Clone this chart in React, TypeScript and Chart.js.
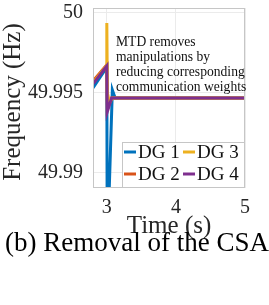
import { useEffect, useRef } from "react";
import { Chart, registerables } from "chart.js";

Chart.register(...registerables);

const seriesNames = ["DG 1", "DG 2", "DG 3", "DG 4"];
const seriesColors = ["#0072BD", "#D95319", "#EDB120", "#7E2F8E"];

const dg1Time = [2.8, 3.0, 3.006, 3.08, 3.12, 5];
const dg1Freq = [49.99531, 49.9966, 49.985, 49.99518, 49.99468, 49.99468];
const dg2Time = [2.8, 3.0, 3.006, 3.07, 5];
const dg2Freq = [49.99574, 49.99675, 49.994, 49.99468, 49.99468];
const dg3Time = [2.8, 2.995, 3.0, 3.008, 3.04, 3.08, 5];
const dg3Freq = [49.99562, 49.9967, 49.99937, 49.995, 49.99437, 49.99468, 49.99468];
const dg4Time = [2.8, 3.0, 3.006, 3.07, 5];
const dg4Freq = [49.99556, 49.99668, 49.99381, 49.99468, 49.99468];

const xMin = 2.8;
const xMax = 5;
const yMin = 49.98906;
const yMax = 50.0003;
const xTicks = [3, 4, 5];
const xTickLabels = ["3", "4", "5"];
const yTicks = [49.99, 49.995, 50];
const yTickLabels = ["49.99", "49.995", "50"];

const xTitle = "Time (s)";
const yTitle = "Frequency (Hz)";
const annotationLines = [
  "MTD removes",
  "manipulations by",
  "reducing corresponding",
  "communication weights",
];
const caption = "(b) Removal of the CSA";

const SERIF = '"Liberation Serif", "Times New Roman", serif';

const toPoints = (t: number[], v: number[]) => t.map((x, i) => ({ x, y: v[i] }));

const overlayPlugin = {
  id: "overlay",
  afterDraw(chart: any) {
    const { ctx, chartArea: a } = chart;
    ctx.save();
    // axes frame
    ctx.strokeStyle = "#c6c6c6";
    ctx.lineWidth = 1;
    ctx.strokeRect(a.left + 0.5, a.top + 0.5, a.right - a.left - 1, a.bottom - a.top - 1);

    // y-axis title
    ctx.save();
    ctx.translate(13, (a.top + a.bottom) / 2 + 4);
    ctx.rotate(-Math.PI / 2);
    ctx.fillStyle = "#262626";
    ctx.font = `25px ${SERIF}`;
    ctx.textAlign = "center";
    ctx.textBaseline = "middle";
    ctx.fillText(yTitle, 0, 0);
    ctx.restore();

    // annotation
    ctx.fillStyle = "#111";
    ctx.font = `13.6px ${SERIF}`;
    ctx.textAlign = "left";
    ctx.textBaseline = "middle";
    annotationLines.forEach((t, i) => ctx.fillText(t, a.left + 23, a.top + 34 + i * 15));

    // legend
    const lw = 123;
    const lh = 46;
    const lx = a.right - lw;
    const ly = a.bottom - lh;
    ctx.fillStyle = "#fff";
    ctx.fillRect(lx, ly, lw, lh);
    ctx.strokeStyle = "#c6c6c6";
    ctx.strokeRect(lx + 0.5, ly + 0.5, lw - 1, lh - 1);
    ctx.font = `19px ${SERIF}`;
    chart.data.datasets.forEach((ds: any, i: number) => {
      const col = Math.floor(i / 2);
      const row = i % 2;
      const x0 = lx + 2 + col * 59;
      const y = ly + 10 + row * 22;
      ctx.strokeStyle = ds.borderColor;
      ctx.lineWidth = 3;
      ctx.beginPath();
      ctx.moveTo(x0, y);
      ctx.lineTo(x0 + 12, y);
      ctx.stroke();
      ctx.fillStyle = "#111";
      ctx.fillText(ds.label, x0 + 14, y + 1);
    });

    // caption
    ctx.fillStyle = "#000";
    ctx.font = `27px ${SERIF}`;
    ctx.textAlign = "center";
    ctx.textBaseline = "middle";
    ctx.fillText(caption, 137, a.bottom + 56);
    ctx.restore();
  },
};

export default function App() {
  const ref = useRef<HTMLCanvasElement | null>(null);

  useEffect(() => {
    if (!ref.current) return;
    const series = [
      toPoints(dg1Time, dg1Freq),
      toPoints(dg2Time, dg2Freq),
      toPoints(dg3Time, dg3Freq),
      toPoints(dg4Time, dg4Freq),
    ];
    const chart = new Chart(ref.current, {
      type: "line",
      data: {
        datasets: series.map((data, i) => ({
          label: seriesNames[i],
          data,
          borderColor: seriesColors[i],
          backgroundColor: seriesColors[i],
          borderWidth: 3,
          pointRadius: 0,
          tension: 0,
          fill: false,
          order: 4 - i,
        })),
      },
      options: {
        animation: false,
        responsive: false,
        events: [],
        layout: { padding: { top: 8, left: 0, right: 24, bottom: 64 } },
        plugins: { legend: { display: false }, tooltip: { enabled: false } },
        scales: {
          x: {
            type: "linear",
            min: xMin,
            max: xMax,
            afterBuildTicks: (s: any) => {
              s.ticks = xTicks.map((v) => ({ value: v }));
            },
            afterFit: (s: any) => {
              s.height = 53;
              s.paddingLeft = 0;
              s.paddingRight = 0;
            },
            ticks: {
              padding: 8,
              maxRotation: 0,
              color: "#262626",
              font: { family: SERIF, size: 20 },
              callback: (v: any) => xTickLabels[xTicks.indexOf(Number(v))] ?? "",
            },
            grid: { color: "#ebebeb", drawTicks: false },
            border: { display: false },
            title: {
              display: true,
              text: xTitle,
              color: "#262626",
              padding: 0,
              font: { family: SERIF, size: 25 },
            },
          },
          y: {
            type: "linear",
            min: yMin,
            max: yMax,
            afterBuildTicks: (s: any) => {
              s.ticks = yTicks.map((v) => ({ value: v }));
            },
            afterFit: (s: any) => {
              s.width = 93;
              s.paddingTop = 0;
              s.paddingBottom = 0;
            },
            ticks: {
              padding: 10,
              color: "#262626",
              font: { family: SERIF, size: 20 },
              callback: (v: any) => {
                const idx = yTicks.findIndex((t) => Math.abs(t - Number(v)) < 1e-7);
                return idx >= 0 ? yTickLabels[idx] : "";
              },
            },
            grid: { color: "#ebebeb", drawTicks: false },
            border: { display: false },
            title: { display: false, text: yTitle },
          },
        },
      },
      plugins: [overlayPlugin],
    });
    return () => chart.destroy();
  }, []);

  return (
    <div style={{ position: "fixed", left: 0, top: 0, width: 269, height: 305, background: "#fff" }}>
      <canvas ref={ref} width={269} height={305} style={{ display: "block", width: 269, height: 305 }} />
    </div>
  );
}
